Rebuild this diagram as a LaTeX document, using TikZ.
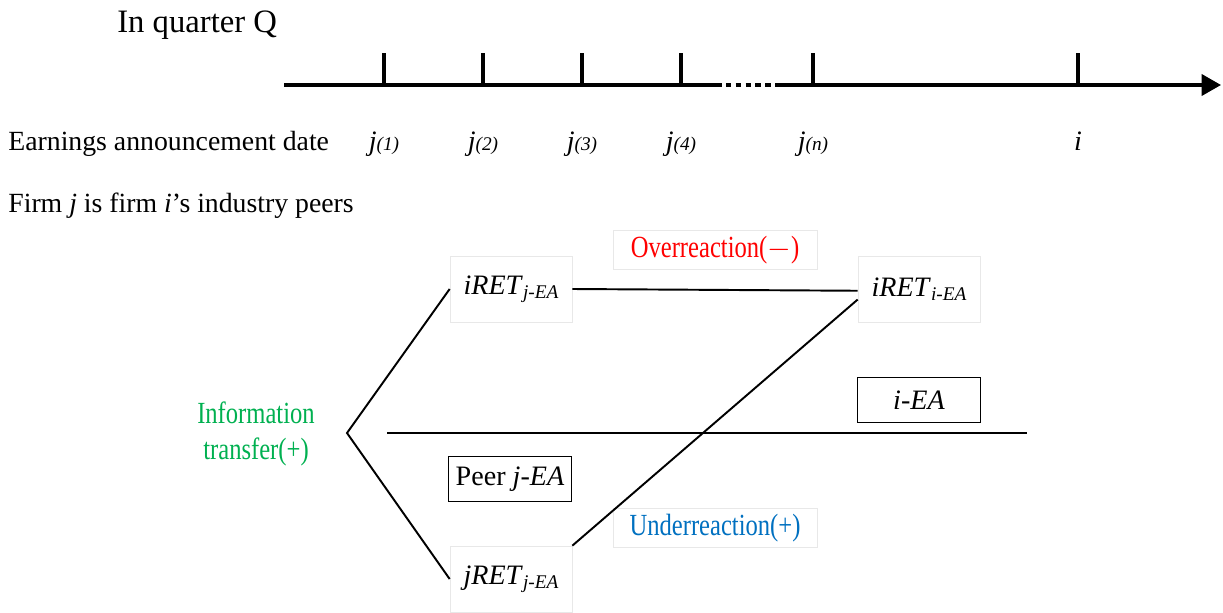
\documentclass[tikz,border=0pt]{standalone}
\usepackage{fontspec}
\setmainfont{Liberation Serif}
\newfontfamily\narrowserif[FakeStretch=0.8]{Liberation Serif}
\usetikzlibrary{arrows.meta,positioning,calc}

\definecolor{overred}{RGB}{255,0,0}
\definecolor{transgreen}{RGB}{0,176,80}
\definecolor{underblue}{RGB}{0,112,192}
\definecolor{faintgray}{RGB}{232,232,232}

% small italic index written after a symbol
\newcommand{\idx}[1]{{\fontsize{11}{11}\selectfont\itshape #1}}
% return symbol with lowered event index
\newcommand{\ret}[2]{\textit{#1RET}\raisebox{-2pt}{\idx{#2}}}

\begin{document}
\begin{tikzpicture}[x=0.02cm, y=-0.02cm,
    axis/.style={line width=1.9pt},
    link/.style={line width=1.1pt},
    datelabel/.style={anchor=base, inner sep=0pt, font=\fontsize{16}{18}\selectfont\itshape},
    plaintext/.style={anchor=base west, inner sep=0pt, font=\fontsize{15.8}{19}\selectfont},
    retbox/.style={draw=faintgray, minimum width=2.44cm, minimum height=1.32cm, font=\fontsize{16}{18}\selectfont},
    eabox/.style={draw, line width=0.6pt, minimum width=2.46cm, minimum height=0.89cm, font=\fontsize{16}{18}\selectfont},
    notebox/.style={draw=faintgray, minimum width=4.08cm, minimum height=0.72cm, font=\narrowserif\fontsize{17.5}{20}\selectfont},
]
    \useasboundingbox (0,0) rectangle (1223,612);

    % timeline of the quarter
    \node[plaintext, font=\fontsize{18.6}{22}\selectfont] (quarter) at (117,32) {In quarter Q};
    \coordinate (tstart) at (284,85);
    \coordinate (dotA) at (716,85);
    \coordinate (dotB) at (776,85);
    \coordinate (tend) at (1221,85);
    \draw[axis] (tstart) -- (dotA);
    \draw[axis, dash pattern=on 3.2pt off 2.4pt] (dotA) -- (dotB);
    \draw[axis, -{Triangle[length=11pt, width=12pt]}] (dotB) -- (tend);

    \foreach \x/\nm/\sub in {384/j1/(1), 483/j2/(2), 582/j3/(3), 681/j4/(4), 813/jn/(n)} {
        \draw[axis] (\x,85) -- (\x,53);
        \node[datelabel] (\nm) at (\x,150) {j\idx{\sub}};
    }
    \draw[axis] (1078,85) -- (1078,53);
    \node[datelabel] (ilabel) at (1078,150) {i};

    \node[plaintext] (eadate) at (8,150) {Earnings announcement date};
    \node[plaintext] (peers) at (8,212) {Firm \textit{j} is firm \textit{i}'s industry peers};

    % reactions around the announcements
    \node[retbox] (iRETj) at (511,289) {\ret{i}{j-EA}};
    \node[retbox] (iRETi) at (919,289) {\ret{i}{i-EA}};
    \node[retbox] (jRET) at (511,579) {\ret{j}{j-EA}};
    \node[notebox, text=overred] (over) at (715,250) {Overreaction($-$)};
    \node[notebox, text=underblue] (under) at (715,528) {Underreaction(+)};
    \node[eabox] (iEA) at (919,400) {\textit{i-EA}};
    \node[eabox] (peerEA) at (510,479) {Peer \textit{j-EA}};
    \node[align=center, text=transgreen, font=\narrowserif\fontsize{17.5}{20.5}\selectfont] (transfer) at (256,434) {Information\\transfer(+)};

    \coordinate (apex) at (347,433);
    \coordinate (eaL) at (387,433);
    \coordinate (eaR) at (1027,433);

    \draw[link] (iRETj.west) -- (apex) -- (jRET.west);
    \draw[link] (iRETj.east) -- ([yshift=-1pt]iRETi.west);
    \draw[link] (jRET.north east) -- ([yshift=-6pt]iRETi.west);
    \draw[link] (eaL) -- (eaR);
\end{tikzpicture}
\end{document}
